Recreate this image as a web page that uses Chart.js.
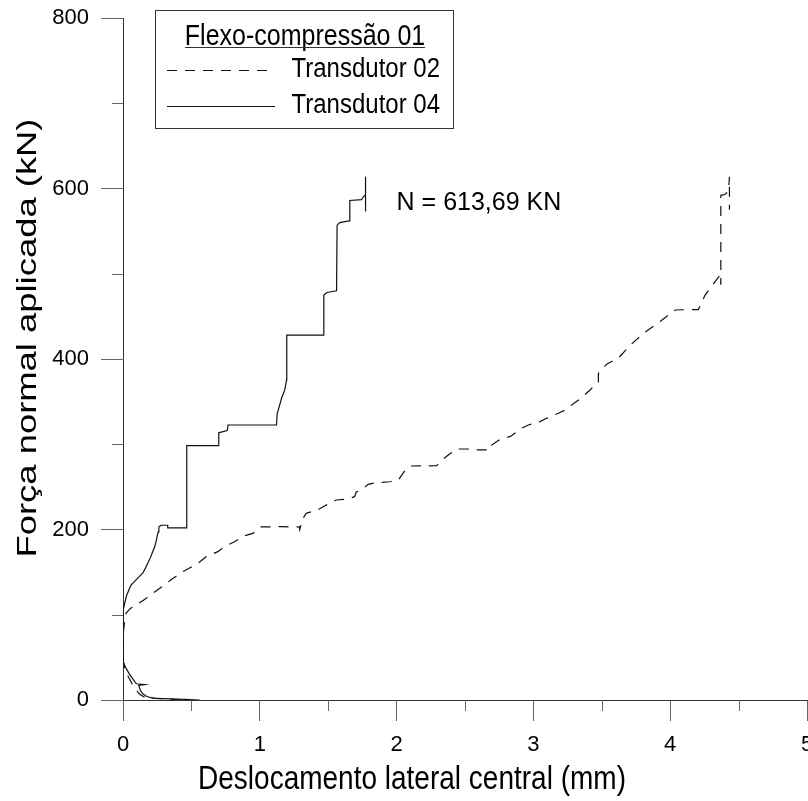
<!DOCTYPE html>
<html lang="pt">
<head>
<meta charset="utf-8">
<title>Flexo-compressão 01</title>
<script src="https://cdn.jsdelivr.net/npm/chart.js@4.4.1/dist/chart.umd.min.js"></script>
<style>
  html, body { margin: 0; padding: 0; background: #fff; overflow: hidden; }
  #wrap { position: relative; width: 808px; height: 801px; }
</style>
</head>
<body>
<div id="wrap"><canvas id="chart"></canvas></div>
<script>
// Força normal x deslocamento lateral - ensaio de flexo-compressão 01
// values (kN vs mm)

const LEGEND_TITLE = 'Flexo-compressão 01';
const SERIES_NAMES = ['Transdutor 02', 'Transdutor 04'];
const X_TITLE = 'Deslocamento lateral central (mm)';
const Y_TITLE = 'Força normal aplicada (kN)';
const NOTE_TEXT = 'N = 613,69 KN';
const NOTE_X = 2.0;   // mm
const NOTE_Y = 583;   // kN

// Transdutor 02 (tracejado)
const t02X = [0.42, 0.36, 0.28, 0.20, 0.15, 0.12, 0.10, 0.07, 0.04, 0.015,
  0.003, 0, 0.003, 0.012, 0.022, 0.054, 0.095, 0.168, 0.217, 0.303,
  0.351, 0.437, 0.546, 0.607, 0.693, 0.742, 0.815, 0.876, 0.949, 1.01,
  1.156, 1.29, 1.292, 1.315, 1.339, 1.424, 1.473, 1.558, 1.631, 1.693,
  1.705, 1.741, 1.792, 1.854, 1.951, 2.012, 2.073, 2.11, 2.293, 2.317,
  2.378, 2.439, 2.512, 2.597, 2.683, 2.695, 2.768, 2.829, 2.914, 2.963,
  3.048, 3.097, 3.182, 3.231, 3.304, 3.341, 3.414, 3.438, 3.475, 3.475,
  3.536, 3.621, 3.707, 3.804, 3.926, 4.036, 4.158, 4.206, 4.215, 4.255,
  4.328, 4.365, 4.37, 4.37, 4.40, 4.426, 4.433, 4.433];
const t02Y = [0, 0.8, 1.5, 2.5, 4, 7, 11, 18, 27, 36,
  45, 60, 80, 92, 101.6, 107.5, 111, 119, 125, 135,
  141, 150.5, 160, 168, 174, 180, 185.7, 192, 195.5, 203,
  203.3, 203, 200, 213, 219, 223, 227.6, 234.6, 235.4, 238.5,
  244, 246, 253, 255, 256, 258, 271.8, 274.5, 274.8, 279.5,
  287.4, 294.4, 294.4, 293.3, 293.3, 299, 307, 308.9, 318.7, 322.6,
  326.5, 330.4, 336.3, 340, 349, 353, 363.6, 367.5, 373, 383,
  394, 401, 416, 430, 444, 457.5, 458, 458, 461, 475,
  490.7, 498.5, 487, 592, 593, 597, 613.7, 575];

// Transdutor 04 (continuo)
const t04X = [0.56, 0.49, 0.40, 0.30, 0.23, 0.195, 0.165, 0.14, 0.125, 0.115,
  0.16, 0.098, 0.075, 0.045, 0.02, 0.005, 0, 0, 0.003, 0.012,
  0.025, 0.045, 0.06, 0.095, 0.12, 0.145, 0.165, 0.18, 0.2, 0.217,
  0.232, 0.242, 0.25, 0.256, 0.262, 0.278, 0.327, 0.327, 0.466, 0.466,
  0.700, 0.700, 0.71, 0.762, 0.768, 1.122, 1.127, 1.14, 1.159, 1.183,
  1.195, 1.197, 1.463, 1.468, 1.468, 1.49, 1.561, 1.565, 1.585, 1.653,
  1.658, 1.744, 1.756, 1.773, 1.773, 1.773];
const t04Y = [0, 0.5, 1, 1.5, 2, 3, 5, 8, 12, 17,
  18, 19, 24, 31, 38, 43, 48, 94, 105, 113,
  122, 130, 135, 141, 145, 149, 155, 160, 167, 174,
  180, 186, 192, 197, 203, 205, 205, 202, 202, 298.5,
  298.5, 313.6, 314, 316, 322.6, 322.6, 336, 343, 354, 364,
  375, 428, 428, 431, 475, 478, 480, 557, 560, 562,
  586, 587, 590, 593, 613.7, 573];

const FONT = '"Liberation Sans", Arial, sans-serif';
const AXIS_COLOR = '#333';
const TICK_COLOR = '#666';
const MINOR_LEN = 11;

function zip(xs, ys) {
  return xs.map((x, i) => ({ x: x, y: ys[i] }));
}
function isMajorX(v) { return Math.abs(v - Math.round(v)) < 1e-6; }
function isMajorY(v) { return Math.round(v) % 200 === 0; }

// stretched text helper (the original labels are drawn a bit taller)
function drawText(ctx, text, x, y, size, align, sx, sy) {
  ctx.save();
  ctx.translate(x, y);
  ctx.scale(sx, sy);
  ctx.font = size + 'px ' + FONT;
  ctx.textAlign = align;
  ctx.textBaseline = 'alphabetic';
  ctx.fillStyle = '#000';
  ctx.fillText(text, 0, 0);
  ctx.restore();
}

// short ticks at the half steps
const minorTicks = {
  id: 'minorTicks',
  afterDraw(chart) {
    const { ctx } = chart;
    const sx = chart.scales.x, sy = chart.scales.y;
    ctx.save();
    ctx.strokeStyle = TICK_COLOR;
    ctx.lineWidth = 1;
    ctx.beginPath();
    sx.ticks.forEach(t => {
      if (isMajorX(t.value)) return;
      const px = Math.round(sx.getPixelForValue(t.value)) + 0.5;
      ctx.moveTo(px, sx.top);
      ctx.lineTo(px, sx.top + MINOR_LEN);
    });
    sy.ticks.forEach(t => {
      if (isMajorY(t.value)) return;
      const py = Math.round(sy.getPixelForValue(t.value)) + 0.5;
      ctx.moveTo(sy.right, py);
      ctx.lineTo(sy.right - MINOR_LEN, py);
    });
    ctx.stroke();
    ctx.restore();
  }
};

// axis titles, boxed legend and the load note
const extras = {
  id: 'extras',
  afterDraw(chart) {
    const { ctx } = chart;
    const sx = chart.scales.x, sy = chart.scales.y;
    const ds = chart.data.datasets;

    // y axis title
    ctx.save();
    ctx.translate(28, 338);
    ctx.rotate(-Math.PI / 2);
    ctx.scale(1.3, 1);
    ctx.font = '28px ' + FONT;
    ctx.textAlign = 'center';
    ctx.textBaseline = 'middle';
    ctx.fillStyle = '#000';
    ctx.fillText(Y_TITLE, 0, 0);
    ctx.restore();

    // x axis title (sits left of the plot centre in the original)
    drawText(ctx, X_TITLE, 412, 789, 28, 'center', 1, 1.2);

    // legend box
    ctx.save();
    ctx.strokeStyle = '#333';
    ctx.lineWidth = 1;
    ctx.strokeRect(155.5, 10.5, 298, 118);
    drawText(ctx, LEGEND_TITLE, 305, 45, 25, 'center', 1, 1.15);
    ctx.beginPath();
    ctx.moveTo(185, 47.5);
    ctx.lineTo(425, 47.5);
    ctx.stroke();

    const rows = [
      { y: 70.5, x0: 167, x1: 267, base: 77 },
      { y: 106.5, x0: 167, x1: 275, base: 113 }
    ];
    rows.forEach((r, i) => {
      ctx.save();
      ctx.strokeStyle = ds[i].borderColor;
      ctx.lineWidth = ds[i].borderWidth;
      ctx.setLineDash(ds[i].borderDash || []);
      ctx.beginPath();
      ctx.moveTo(r.x0, r.y);
      ctx.lineTo(r.x1, r.y);
      ctx.stroke();
      ctx.restore();
      drawText(ctx, SERIES_NAMES[i], 440, r.base, 24, 'right', 1, 1.15);
    });
    ctx.restore();

    // load note
    ctx.save();
    ctx.font = '25px ' + FONT;
    ctx.textAlign = 'left';
    ctx.textBaseline = 'middle';
    ctx.fillStyle = '#000';
    ctx.fillText(NOTE_TEXT, sx.getPixelForValue(NOTE_X), sy.getPixelForValue(NOTE_Y));
    ctx.restore();
  }
};

new Chart(document.getElementById('chart'), {
  type: 'scatter',
  data: {
    datasets: [
      {
        label: SERIES_NAMES[0],
        data: zip(t02X, t02Y),
        showLine: true,
        borderColor: '#111',
        borderWidth: 1.2,
        borderDash: [10, 8],
        pointRadius: 0
      },
      {
        label: SERIES_NAMES[1],
        data: zip(t04X, t04Y),
        showLine: true,
        borderColor: '#111',
        borderWidth: 1.2,
        pointRadius: 0
      }
    ]
  },
  options: {
    responsive: true,
    maintainAspectRatio: false,
    animation: false,
    layout: { padding: { top: 18, right: 1, left: 0, bottom: 0 } },
    plugins: {
      legend: { display: false },
      tooltip: { enabled: false }
    },
    elements: { line: { tension: 0 } },
    scales: {
      x: {
        type: 'linear',
        min: 0,
        max: 5,
        border: { display: true, color: AXIS_COLOR, width: 1 },
        grid: {
          display: true,
          drawOnChartArea: false,
          drawTicks: true,
          tickLength: 21,
          tickColor: c => (c.tick && isMajorX(c.tick.value)) ? TICK_COLOR : 'rgba(0,0,0,0)'
        },
        ticks: {
          stepSize: 0.5,
          autoSkip: false,
          maxRotation: 0,
          padding: 11,
          color: '#000',
          font: { family: FONT, size: 22 },
          callback: v => isMajorX(v) ? String(Math.round(v)) : ''
        },
        afterFit(s) {
          s.height = 101;
          s.paddingLeft = 0;
          s.paddingRight = 0;
        }
      },
      y: {
        type: 'linear',
        min: 0,
        max: 800,
        border: { display: true, color: AXIS_COLOR, width: 1 },
        grid: {
          display: true,
          drawOnChartArea: false,
          drawTicks: true,
          tickLength: 22,
          tickColor: c => (c.tick && isMajorY(c.tick.value)) ? TICK_COLOR : 'rgba(0,0,0,0)'
        },
        ticks: {
          stepSize: 100,
          autoSkip: false,
          padding: 12,
          color: '#000',
          font: { family: FONT, size: 22 },
          callback: v => isMajorY(v) ? String(v) : ''
        },
        afterFit(s) {
          s.width = 123;
          s.paddingTop = 0;
          s.paddingBottom = 0;
        }
      }
    }
  },
  plugins: [minorTicks, extras]
});
</script>
</body>
</html>
